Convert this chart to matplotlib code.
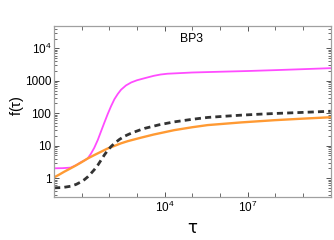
import numpy as np
import matplotlib
matplotlib.use("Agg")
import matplotlib.pyplot as plt
from matplotlib.ticker import FixedLocator, FixedFormatter, NullFormatter

plt.rcParams['font.family'] = ['Liberation Sans', 'DejaVu Sans']
plt.rcParams['mathtext.default'] = 'regular'

# log10(tau) and f(tau)
mag_logx = [0.0, 0.3, 0.6, 0.8, 0.97, 1.1, 1.21, 1.33, 1.45, 1.58, 1.7, 1.82, 1.94, 2.06, 2.18,
            2.3, 2.42, 2.6, 2.79, 3.0, 3.27, 3.6, 3.85, 4.1, 5.0, 6.0, 7.0, 8.0, 9.0, 10.0]
mag_y = [2.0, 2.02, 2.1, 2.5, 3.1, 3.5, 4.0, 5.6, 8.5, 15.0, 28.0, 52.0, 95.0, 165.0, 270.0,
         390.0, 530.0, 720.0, 890.0, 1040.0, 1200.0, 1420.0, 1560.0, 1650.0, 1800.0, 1900.0, 2000.0, 2130.0, 2280.0, 2450.0]

org_logx = [0.0, 0.2, 0.36, 0.55, 0.73, 0.97, 1.21, 1.45, 1.7, 1.94, 2.18, 2.42, 2.67, 3.13,
            3.6, 4.34, 5.0, 5.55, 6.76, 7.98, 9.0, 10.0]
org_y = [1.05, 1.3, 1.56, 1.9, 2.3, 3.0, 4.0, 5.1, 6.5, 8.2, 9.8, 11.8, 13.8, 17.5,
         22.0, 30.0, 37.0, 43.0, 52.0, 61.0, 68.0, 75.0]

dash_logx = [0.0, 0.3, 0.6, 0.8, 0.97, 1.1, 1.21, 1.33, 1.45, 1.58, 1.7, 1.82, 1.94, 2.06, 2.18,
             2.36, 2.55, 2.73, 2.91, 3.13, 3.27, 3.8, 4.34, 5.0, 5.55, 6.2, 6.76, 7.4, 7.98, 9.0, 10.0]
dash_y = [0.5, 0.51, 0.56, 0.64, 0.76, 0.9, 1.08, 1.38, 1.8, 2.5, 3.6, 5.2, 7.2, 9.4, 11.7,
          15.5, 19.6, 23.0, 26.5, 31.0, 34.0, 44.0, 54.0, 65.0, 74.0, 81.0, 87.0, 93.0, 98.0, 106.0, 115.0]

y_ticks = [1, 10, 100, 1000, 10000]
y_ticklabels = ['1', '10', '100', '1000', '$10^{4}$']
x_ticks = [1e4, 1e7]
x_ticklabels = ['$10^{4}$', '$10^{7}$']

fig = plt.figure(figsize=(3.34, 2.40), dpi=100)
ax = fig.add_axes([0.162, 0.179, 0.828, 0.714])

ax.plot(10 ** np.array(mag_logx), mag_y, color='#ff4cff', lw=1.3)
ax.plot(10 ** np.array(org_logx), org_y, color='#ff9a33', lw=1.7)
ax.plot(10 ** np.array(dash_logx), dash_y, color='#333333', lw=2.0, dashes=(2.2, 1.5))

ax.set_xscale('log')
ax.set_yscale('log')
ax.set_xlim(1, 1e10)
ax.set_ylim(0.26, 5e4)

ax.xaxis.set_major_locator(FixedLocator(x_ticks))
ax.xaxis.set_major_formatter(FixedFormatter(x_ticklabels))
ax.xaxis.set_minor_locator(FixedLocator([10.0 ** k for k in range(1, 10) if k not in (4, 7)]))
ax.xaxis.set_minor_formatter(NullFormatter())

ax.yaxis.set_major_locator(FixedLocator(y_ticks))
ax.yaxis.set_major_formatter(FixedFormatter(y_ticklabels))
ym = [m * 10.0 ** e for e in range(-1, 5) for m in range(2, 10)]
ax.yaxis.set_minor_locator(FixedLocator(ym))
ax.yaxis.set_minor_formatter(NullFormatter())

for s in ax.spines.values():
    s.set_color('#a0a0a0')
    s.set_linewidth(0.9)

ax.tick_params(which='both', direction='in', top=True, right=True, colors='#555555',
               labelcolor='black', labelsize=8.5, pad=2)
ax.tick_params(which='major', length=3.5, width=0.7)
ax.tick_params(which='minor', length=2, width=0.6)
ax.tick_params(axis='x', which='minor', length=3.0)

ax.set_xlabel(r'$\tau$', fontsize=12, labelpad=3, family='DejaVu Sans')
fig.text(0.05, 0.56, r'f($\tau$)', rotation=90, fontsize=10.5, ha='center', va='center')

ax.text(0.455, 0.955, 'BP3', transform=ax.transAxes, fontsize=8.8, ha='left', va='top')

fig.savefig('out.png', dpi=100)
